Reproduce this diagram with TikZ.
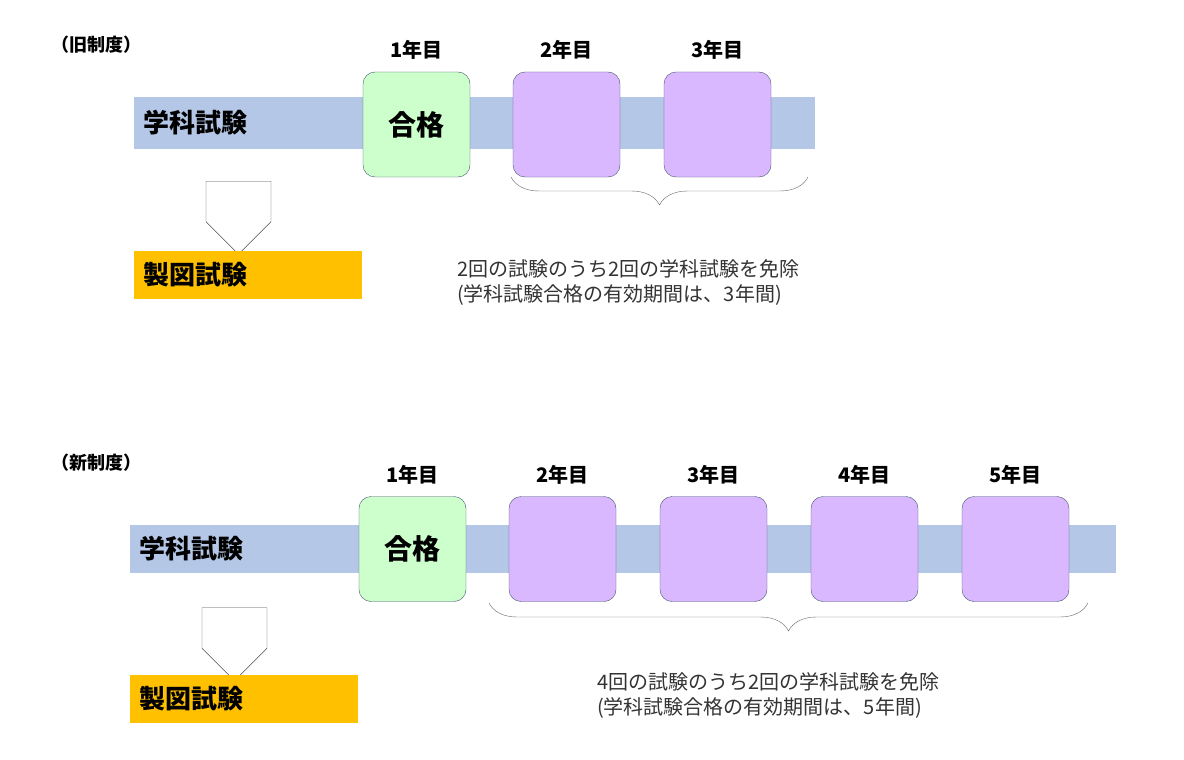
\documentclass[tikz,border=0pt]{standalone}
\usepackage{fontspec}
\newfontfamily\jp{Noto Sans CJK JP}
\usetikzlibrary{positioning,shapes.arrows,decorations.pathreplacing}
\definecolor{bandblue}{RGB}{180,199,231}
\definecolor{passgreen}{RGB}{204,255,204}
\definecolor{yearpurple}{RGB}{218,184,255}
\definecolor{draworange}{RGB}{255,192,0}
\definecolor{boxline}{RGB}{68,84,106}
\tikzset{
  yearbox/.style={draw=boxline, rounded corners=12pt, minimum width=107pt, minimum height=105pt, inner sep=0pt, font=\jp\bfseries\fontsize{28}{30}\selectfont},
  yearlabel/.style={font=\jp\bfseries\fontsize{20}{22}\selectfont},
  subject/.style={font=\jp\bfseries\fontsize{26}{28}\selectfont, anchor=west},
  title/.style={font=\jp\bfseries\fontsize{18}{20}\selectfont, anchor=west},
  note/.style={font=\jp\fontsize{20}{25}\selectfont, text=black!80, align=left, anchor=north west, inner sep=0pt},
  downarrow/.style={single arrow, draw=black!70, fill=white, shape border rotate=270, minimum width=65pt, single arrow head extend=0pt, minimum height=73pt, inner sep=0pt, single arrow tip angle=90},
  brace/.style={draw=black!60, decorate, decoration={brace, mirror, amplitude=28pt, aspect=0.5}}
}
\begin{document}
\begin{tikzpicture}[x=1pt,y=-1pt]
\useasboundingbox (0,0) rectangle (1184,760);
% old system
\node[title] (t1) at (48,45) {（旧制度）};
\fill[bandblue] (134,97) rectangle (815,149);
\node[subject] (s1) at (140,123) {学科試験};
\node[yearbox, fill=passgreen] (a1) at (416.5,124.5) {合格};
\node[yearlabel] at (416.5,50) {1年目};
\foreach \i/\x in {2/566.5,3/717.5}{
  \node[yearbox, fill=yearpurple] (a\i) at (\x,124.5) {};
  \node[yearlabel] at (\x,50) {{\i}年目};
}
\node[downarrow] (d1) at (238.5,201.5) {};
\node[fill=draworange, minimum width=228pt, minimum height=48pt, inner sep=0pt] (o1) at (248,275) {};
\node[subject] at (140,275) {製図試験};
\coordinate (b1l) at (511,177);
\coordinate (b1r) at (808,177);
\draw[brace] (b1l) -- (b1r);
\node[note] (n1) at (457,259) {2回の試験のうち2回の学科試験を免除\\(学科試験合格の有効期間は、3年間)};
% new system
\node[title] (t2) at (48,463) {（新制度）};
\fill[bandblue] (130,525) rectangle (1116,573);
\node[subject] (s2) at (136,549) {学科試験};
\node[yearbox, fill=passgreen] (c1) at (412.5,549) {合格};
\node[yearlabel] at (412.5,475) {1年目};
\foreach \i/\x in {2/562.5,3/713.5,4/864.5,5/1015.5}{
  \node[yearbox, fill=yearpurple] (c\i) at (\x,549) {};
  \node[yearlabel] at (\x,475) {{\i}年目};
}
\node[downarrow] (d2) at (234.5,628) {};
\node[fill=draworange, minimum width=228pt, minimum height=48pt, inner sep=0pt] (o2) at (244,699) {};
\node[subject] at (136,699) {製図試験};
\coordinate (b2l) at (489,603);
\coordinate (b2r) at (1088,603);
\draw[brace] (b2l) -- (b2r);
\node[note] (n2) at (597,672) {4回の試験のうち2回の学科試験を免除\\(学科試験合格の有効期間は、5年間)};
\end{tikzpicture}
\end{document}
